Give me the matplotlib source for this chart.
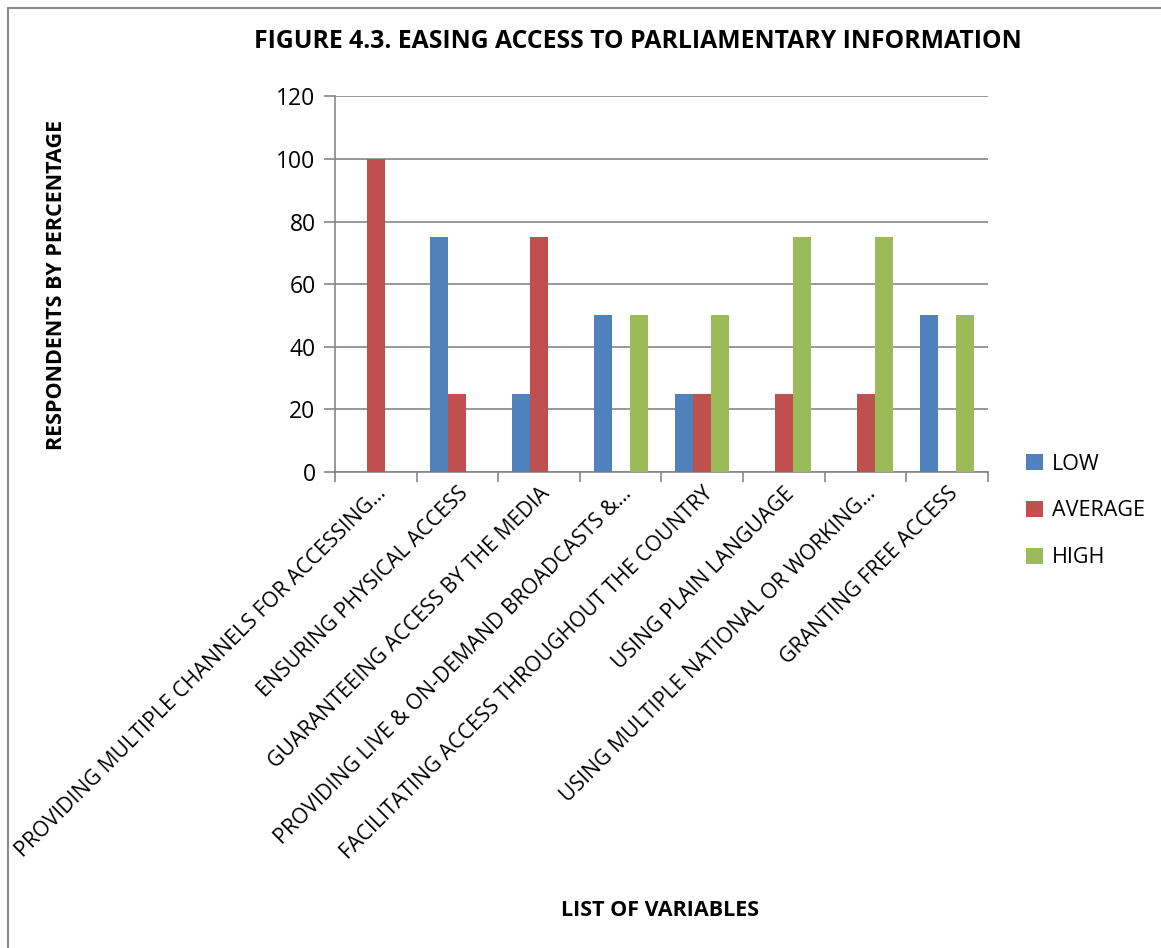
import matplotlib.pyplot as plt
import numpy as np
from matplotlib.patches import Rectangle

plt.rcParams['font.family'] = ['Open Sans', 'DejaVu Sans']

categories = [
    "PROVIDING MULTIPLE CHANNELS FOR ACCESSING…",
    "ENSURING PHYSICAL ACCESS",
    "GUARANTEEING ACCESS BY THE MEDIA",
    "PROVIDING LIVE & ON-DEMAND BROADCASTS &…",
    "FACILITATING ACCESS THROUGHOUT THE COUNTRY",
    "USING PLAIN LANGUAGE",
    "USING MULTIPLE NATIONAL OR WORKING…",
    "GRANTING FREE ACCESS",
]
low = [0, 75, 25, 50, 25, 0, 0, 50]
average = [100, 25, 75, 0, 25, 25, 25, 0]
high = [0, 0, 0, 50, 50, 75, 75, 50]

series = [("LOW", low, "#4F81BD"), ("AVERAGE", average, "#C0504D"), ("HIGH", high, "#9BBB59")]

fig = plt.figure(figsize=(11.61, 9.48), dpi=100)
ax = fig.add_axes([0.2885, 0.502, 0.5625, 0.3965])

# chart frame
fig.patches.append(Rectangle((8 / 1161, -0.01), 1.0, 1 - 8 / 948 + 0.01, transform=fig.transFigure,
                             fill=False, edgecolor="#8c8c8c", linewidth=1.5))

x = np.arange(len(categories))
w = 0.22
for i, (name, vals, color) in enumerate(series):
    ax.bar(x + (i - 1) * w, vals, width=w, color=color, label=name, zorder=3)

ax.set_xlim(-0.5, len(categories) - 0.5)
ax.set_ylim(0, 120)
ax.set_yticks(range(0, 121, 20))
ax.yaxis.grid(True, color="#868686", linewidth=1.2, zorder=0)
ax.tick_params(axis="y", length=8, width=1.2, color="#868686", labelsize=16.5, pad=6)

ax.set_xticks(np.arange(-0.5, len(categories), 1.0), minor=False)
ax.set_xticklabels([])
ax.tick_params(axis="x", length=7, width=1.2, color="#868686")
ax.set_xticks(x, minor=True)
ax.set_xticklabels(categories, minor=True, rotation=45, ha="right", va="top",
                   rotation_mode="anchor", fontsize=15.3)
ax.tick_params(axis="x", which="minor", length=0, pad=8)

for s in ["top", "right"]:
    ax.spines[s].set_visible(False)
for s in ["left", "bottom"]:
    ax.spines[s].set_color("#868686")
    ax.spines[s].set_linewidth(1.2)

fig.text(638 / 1161, 1 - 42 / 948, "FIGURE 4.3. EASING ACCESS TO PARLIAMENTARY INFORMATION",
         ha="center", va="center", fontsize=17.8, fontweight="bold")
fig.text(57 / 1161, 1 - 285 / 948, "RESPONDENTS BY PERCENTAGE", rotation=90,
         ha="center", va="center", fontsize=15.5, fontweight="bold")
fig.text(660 / 1161, 1 - 910 / 948, "LIST OF VARIABLES",
         ha="center", va="center", fontsize=15.5, fontweight="bold")

fig.legend(loc="center left", bbox_to_anchor=(1007 / 1161, 1 - 511 / 948), frameon=False,
           fontsize=15.5, handlelength=0.75, handleheight=0.75, labelspacing=1.2, handletextpad=0.45)

fig.savefig("out.png", dpi=100)
